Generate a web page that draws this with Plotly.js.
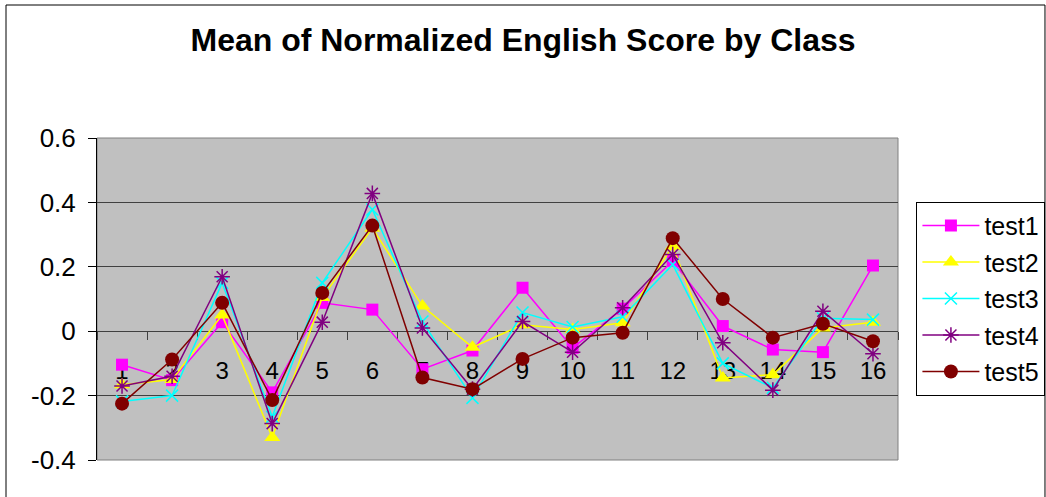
<!DOCTYPE html>
<html>
<head>
<meta charset="utf-8">
<script src="https://cdn.plot.ly/plotly-3.0.1.min.js"></script>
<style>html,body{margin:0;padding:0;background:#fff;}#chart{width:1046px;height:497px;}</style>
</head>
<body>
<div id="chart"></div>
<script>
const classes = ['1','2','3','4','5','6','7','8','9','10','11','12','13','14','15','16'];
const test1 = [-0.104, -0.152, 0.028, -0.19, 0.088, 0.067, -0.118, -0.06, 0.135, -0.052, 0.07, 0.218, 0.016, -0.057, -0.065, 0.204];
const test2 = [-0.166, -0.15, 0.05, -0.33, 0.105, 0.32, 0.078, -0.05, 0.02, 0.005, 0.026, 0.264, -0.145, -0.135, 0.01, 0.028];
const test3 = [-0.218, -0.2, 0.15, -0.266, 0.15, 0.378, 0.03, -0.207, 0.058, 0.013, 0.045, 0.207, -0.10, -0.176, 0.04, 0.036];
const test4 = [-0.17, -0.14, 0.169, -0.287, 0.028, 0.428, 0.01, -0.18, 0.03, -0.065, 0.073, 0.238, -0.036, -0.183, 0.062, -0.07];
const test5 = [-0.225, -0.088, 0.088, -0.214, 0.119, 0.328, -0.144, -0.18, -0.086, -0.02, -0.005, 0.289, 0.10, -0.02, 0.023, -0.031];
const yTicks = [-0.4, -0.2, 0, 0.2, 0.4, 0.6];
const yTickText = ['-0.4', '-0.2', '0', '0.2', '0.4', '0.6'];

const FONT = 'Liberation Sans, Arial, sans-serif';
function mk(name, y, color, symbol, size, mline) {
  return {
    type: 'scatter', mode: 'lines+markers', name: name, x: classes, y: y,
    legendgroup: name,
    line: {color: color, width: 1.5},
    marker: {color: color, symbol: symbol, size: size, line: {color: color, width: mline}}
  };
}
const traces = [
  mk('test1', test1, '#FF00FF', 'square', 12, 0),
  mk('test2', test2, '#FFFF00', 'triangle-up', 14, 0),
  mk('test3', test3, '#00FFFF', 'x-thin-open', 12, 1.5),
  mk('test4', test4, '#800080', 'asterisk-open', 13, 1.5),
  mk('test5', test5, '#800000', 'circle', 14, 0)
];

const layout = {
  width: 1046, height: 497,
  margin: {l: 97, r: 148, t: 138, b: 37, pad: 0, autoexpand: false},
  paper_bgcolor: '#FFFFFF',
  plot_bgcolor: '#C0C0C0',
  font: {family: FONT, size: 24, color: '#000'},
  title: {text: '<b>Mean of Normalized English Score by Class</b>', font: {family: FONT, size: 32, color: '#000'},
          x: 0.5, xref: 'container', xanchor: 'center', y: 0.92, yref: 'container', yanchor: 'middle'},
  xaxis: {
    type: 'category', range: [-0.5, 15.5], fixedrange: true,
    anchor: 'free', position: 0.4,
    showline: true, linecolor: '#404040', linewidth: 1,
    ticks: 'outside', tickson: 'boundaries', ticklen: 8, tickcolor: '#404040', tickwidth: 1,
    ticklabelstandoff: 18,
    showgrid: false, zeroline: false,
    layer: 'below traces',
    tickfont: {family: FONT, size: 24, color: '#000'}
  },
  yaxis: {
    range: [-0.4, 0.6], tickvals: yTicks, ticktext: yTickText, fixedrange: true,
    showline: true, linecolor: '#000', linewidth: 1,
    ticks: 'outside', ticklen: 8, tickcolor: '#000',
    ticklabelstandoff: 7,
    showgrid: true, gridcolor: '#404040', gridwidth: 1,
    zeroline: false,
    tickfont: {family: FONT, size: 26, color: '#000'}
  },
  legend: {
    x: 1.023, y: 0.802, xanchor: 'left', yanchor: 'top',
    bgcolor: '#FFFFFF', bordercolor: '#000', borderwidth: 1,
    font: {family: FONT, size: 25, color: '#000'},
    itemwidth: 57,
    tracegroupgap: 1
  },
  shapes: [
    {type: 'rect', xref: 'paper', yref: 'paper', x0: 0, x1: 1, y0: 0, y1: 1,
     line: {color: '#808080', width: 1}, layer: 'below'},
    {type: 'rect', xref: 'paper', yref: 'paper', x0: -0.1136, x1: 1.1835, y0: -0.2, y1: 1.413,
     line: {color: '#000', width: 1}, fillcolor: 'rgba(0,0,0,0)', layer: 'above'}
  ],
  showlegend: true
};

Plotly.newPlot('chart', traces, layout, {displayModeBar: false, staticPlot: true});
</script>
</body>
</html>
